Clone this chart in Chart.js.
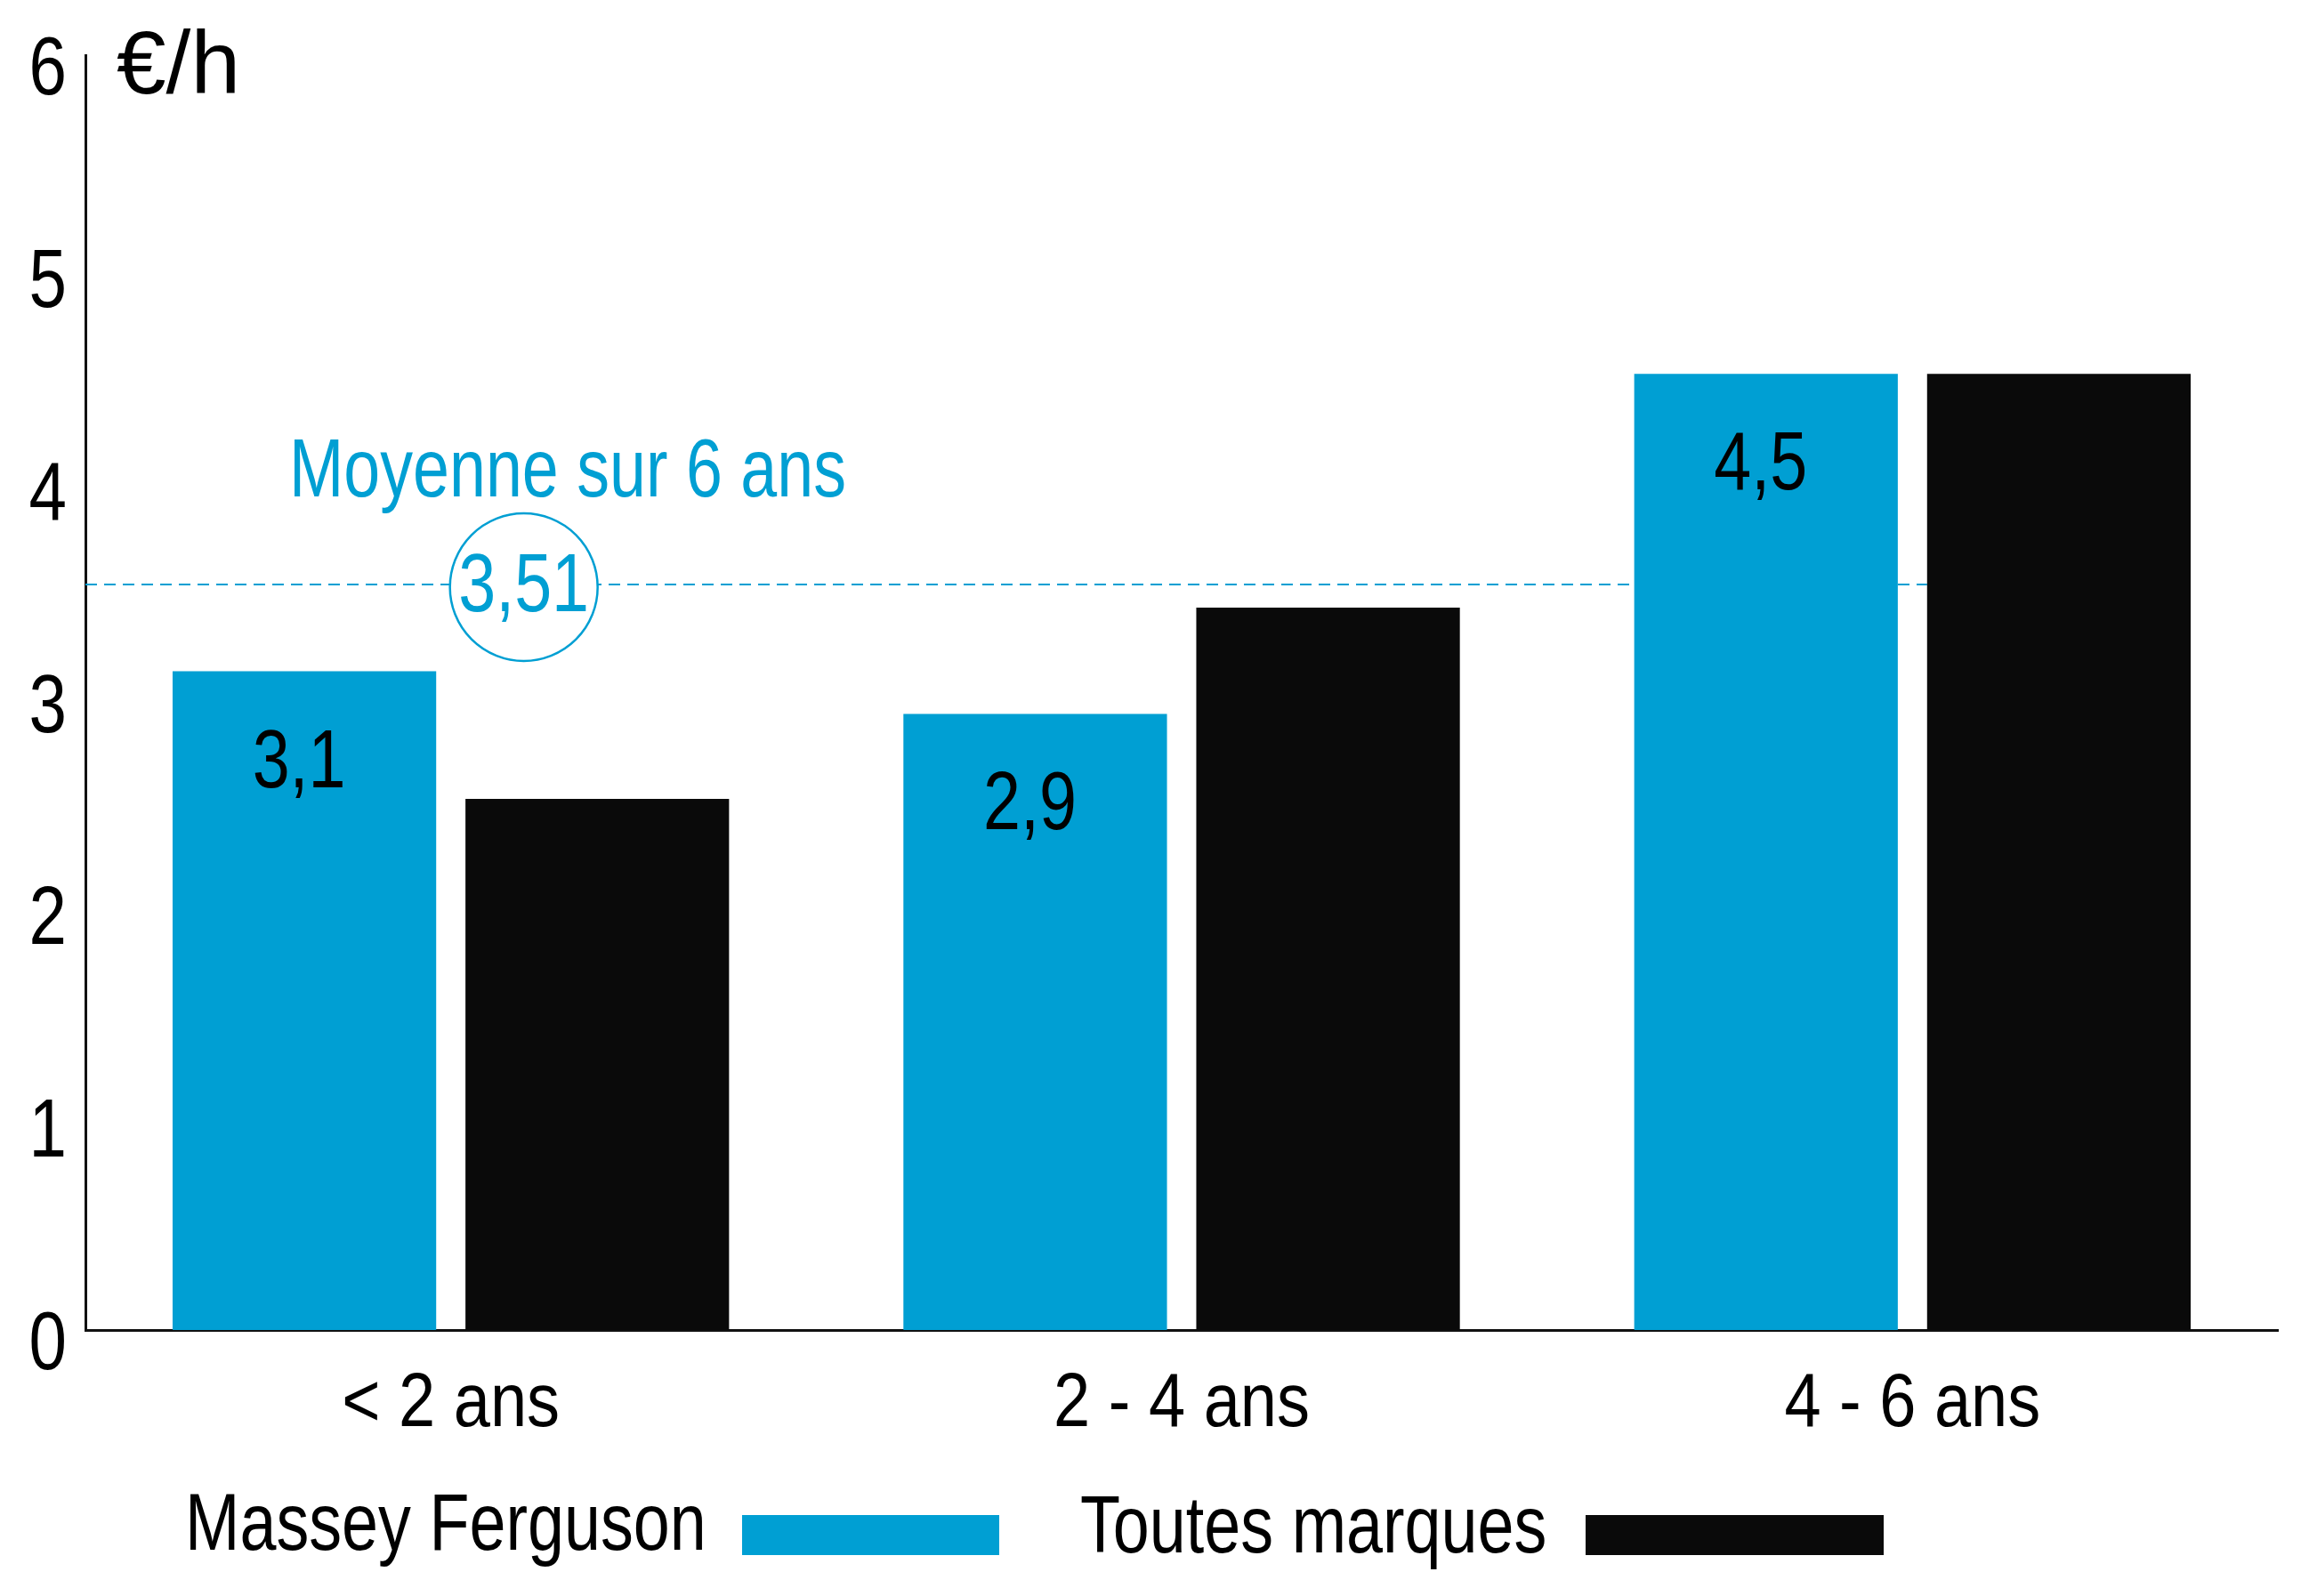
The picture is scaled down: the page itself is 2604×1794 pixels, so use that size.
<!DOCTYPE html>
<html>
<head>
<meta charset="utf-8">
<title>Coût €/h</title>
<script src="https://cdn.jsdelivr.net/npm/chart.js@4.4.1/dist/chart.umd.min.js"></script>
<style>
  html, body { margin: 0; padding: 0; background: #fff; }
</style>
</head>
<body>
<canvas id="chart" width="2604" height="1794"></canvas>
<script>
// Data
const categories = ['< 2 ans', '2 - 4 ans', '4 - 6 ans'];
const seriesNames = ['Massey Ferguson', 'Toutes marques'];
const masseyFerguson = [3.1, 2.9, 4.5];
const toutesMarques = [2.5, 3.4, 4.5];
const yTicks = [0, 1, 2, 3, 4, 5, 6];
const moyenne = 3.51;
const moyenneLabel = 'Moyenne sur 6 ans';
const unitLabel = '€/h';

const BLUE = '#009fd3';
const BLACK = '#0a0a0a';
const FONT = "'Liberation Sans', Arial, sans-serif";

const fmt = v => String(v).replace('.', ',');

// condensed text: Liberation Sans squeezed horizontally (no narrow font installed)
function narrowText(ctx, text, x, y, size, align, color, squeeze) {
  const k = squeeze || 0.82;
  ctx.save();
  ctx.font = size + 'px ' + FONT;
  ctx.textBaseline = 'alphabetic';
  ctx.textAlign = 'left';
  const w = ctx.measureText(text).width * k;
  let left = x;
  if (align === 'center') left = x - w / 2;
  if (align === 'right') left = x - w;
  ctx.translate(left, y);
  ctx.scale(k, 1);
  ctx.fillStyle = color;
  ctx.fillText(text, 0, 0);
  ctx.restore();
}

// dashed average line + circled value, behind the bars
const averagePlugin = {
  id: 'average',
  beforeDatasetsDraw(chart) {
    const ctx = chart.ctx;
    const y = Math.round(chart.scales.y.getPixelForValue(moyenne));
    const last = chart.getDatasetMeta(1).data[2];
    const x0 = chart.chartArea.left;
    const x1 = last.x - last.width / 2;
    const cx = chart.scales.x.getPixelForValue(0) + 82;
    ctx.save();
    ctx.strokeStyle = BLUE;
    ctx.lineWidth = 2;
    ctx.setLineDash([13, 8]);
    ctx.beginPath();
    ctx.moveTo(x0, y);
    ctx.lineTo(x1, y);
    ctx.stroke();
    ctx.setLineDash([]);
    ctx.lineWidth = 2.5;
    ctx.beginPath();
    ctx.arc(cx, y + 3, 83, 0, Math.PI * 2);
    ctx.fillStyle = '#fff';
    ctx.fill();
    ctx.stroke();
    ctx.restore();
    narrowText(ctx, fmt(moyenne), cx, y + 30, 92, 'center', BLUE);
    narrowText(ctx, moyenneLabel, 325, 558, 92, 'left', BLUE, 0.8);
  }
};

// values inside the blue bars
const valuePlugin = {
  id: 'values',
  afterDatasetsDraw(chart) {
    chart.getDatasetMeta(0).data.forEach((bar, i) => {
      narrowText(chart.ctx, fmt(masseyFerguson[i]), bar.x - 6, bar.y + 130, 92, 'center', '#000');
    });
  }
};

// axis tick labels, unit title and legend (text first, then swatch)
const textPlugin = {
  id: 'texts',
  afterDraw(chart) {
    const ctx = chart.ctx;
    const xs = chart.scales.x, ys = chart.scales.y;

    ys.ticks.forEach(t => {
      narrowText(ctx, String(t.value), 75, ys.getPixelForValue(t.value) + 44, 93, 'right', '#000');
    });
    xs.ticks.forEach((t, i) => {
      narrowText(ctx, categories[i], xs.getPixelForTick(i), 1603, 86, 'center', '#000', 0.86);
    });

    ctx.save();
    ctx.fillStyle = '#000';
    ctx.font = '100px ' + FONT;
    ctx.textBaseline = 'alphabetic';
    ctx.fillText(unitLabel, 131, 105);
    ctx.restore();

    const items = [
      { textX: 208, baseY: 1742, boxX: 834, boxW: 289 },
      { textX: 1214, baseY: 1745, boxX: 1782, boxW: 335 }
    ];
    chart.data.datasets.forEach((ds, i) => {
      const it = items[i];
      narrowText(ctx, ds.label, it.textX, it.baseY, 91, 'left', '#000', 0.81);
      ctx.fillStyle = ds.backgroundColor;
      ctx.fillRect(it.boxX, 1703, it.boxW, 45);
    });
  }
};

new Chart(document.getElementById('chart'), {
  type: 'bar',
  data: {
    labels: categories,
    datasets: [
      { label: seriesNames[0], data: masseyFerguson, backgroundColor: BLUE },
      { label: seriesNames[1], data: toutesMarques, backgroundColor: BLACK }
    ]
  },
  options: {
    responsive: false,
    animation: false,
    layout: { padding: { top: 62, right: 44, bottom: 150, left: 0 } },
    categoryPercentage: 0.8015,
    barPercentage: 0.9,
    plugins: {
      legend: { display: false },
      tooltip: { enabled: false }
    },
    scales: {
      x: {
        grid: { display: false, drawTicks: false },
        border: { display: true, color: '#111', width: 3 },
        ticks: { display: false },
        afterFit(scale) {
          scale.height = 149;
          scale.paddingLeft = 0; scale.paddingRight = 0;
        }
      },
      y: {
        min: 0,
        max: 6,
        afterBuildTicks(scale) { scale.ticks = yTicks.map(v => ({ value: v })); },
        grid: { display: false, drawTicks: false },
        border: { display: true, color: '#111', width: 3 },
        ticks: { display: false },
        afterFit(scale) {
          scale.width = 96;
          scale.paddingTop = 0; scale.paddingBottom = 0;
        }
      }
    }
  },
  plugins: [averagePlugin, valuePlugin, textPlugin]
});
</script>
</body>
</html>
